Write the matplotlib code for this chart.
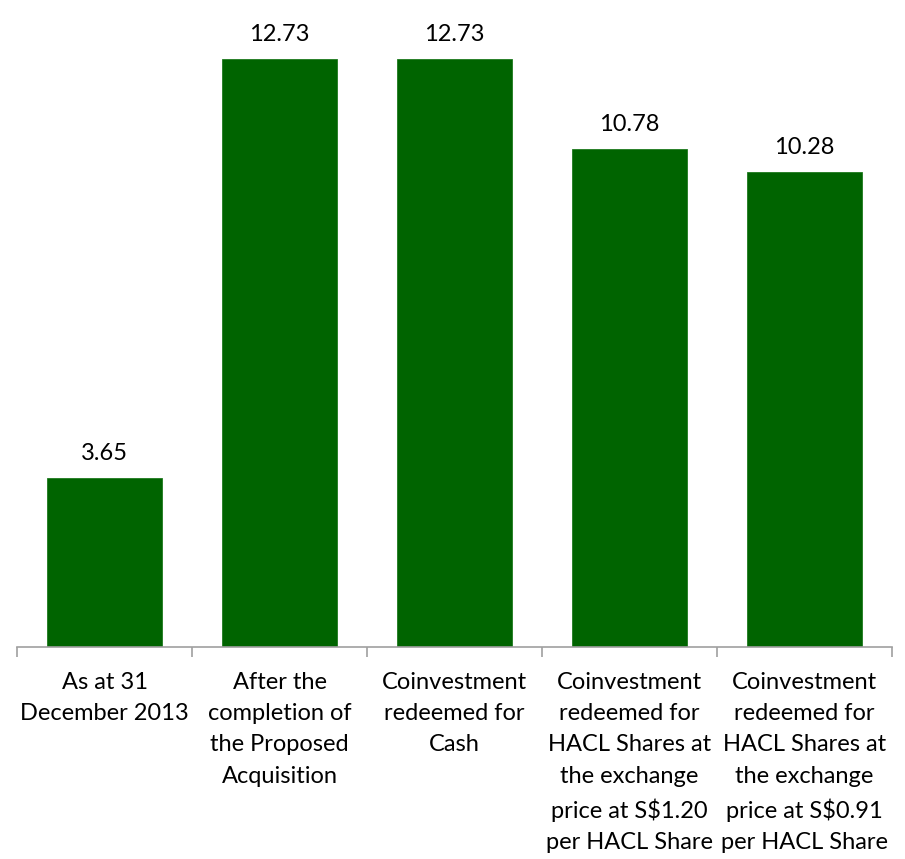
import numpy as np
import matplotlib.pyplot as plt

categories = ['As at 31\nDecember 2013',
              'After the\ncompletion of\nthe Proposed\nAcquisition',
              'Coinvestment\nredeemed for\nCash',
              'Coinvestment\nredeemed for\nHACL Shares at\nthe exchange\nprice at S$1.20\nper HACL Share',
              'Coinvestment\nredeemed for\nHACL Shares at\nthe exchange\nprice at S$0.91\nper HACL Share']
values = [3.65, 12.73, 12.73, 10.78, 10.28]

plt.rcParams['font.family'] = ['Lato', 'DejaVu Sans']

fig = plt.figure(figsize=(9.05, 8.59), dpi=100)
ax = fig.add_axes([17/905, (859-647)/859, 875/905, 647/859])

x = np.arange(len(values))
ax.bar(x, values, width=0.66, color='#006400', edgecolor='#1e7a1e', linewidth=0.6)
for xi, v in zip(x, values):
    ax.text(xi, v + 0.3, f'{v:.2f}', ha='center', va='bottom', fontsize=17, color='black')

ax.set_xlim(-0.5, len(values) - 0.5)
ax.set_ylim(0, 14)
ax.set_yticks([])
ax.set_xticks(np.arange(len(values) + 1) - 0.5, minor=False)
ax.set_xticklabels([])
ax.set_xticks(x, minor=True)
ax.set_xticklabels(categories, minor=True, fontsize=17, linespacing=1.6, va='top')
ax.tick_params(axis='x', which='major', length=7, color='#a0a0a0', width=1.2)
ax.tick_params(axis='x', which='minor', length=0, pad=18)
for s in ['top', 'right', 'left']:
    ax.spines[s].set_visible(False)
ax.spines['bottom'].set_color('#a0a0a0')
ax.spines['bottom'].set_linewidth(1.2)

fig.savefig('out.png', dpi=100)
